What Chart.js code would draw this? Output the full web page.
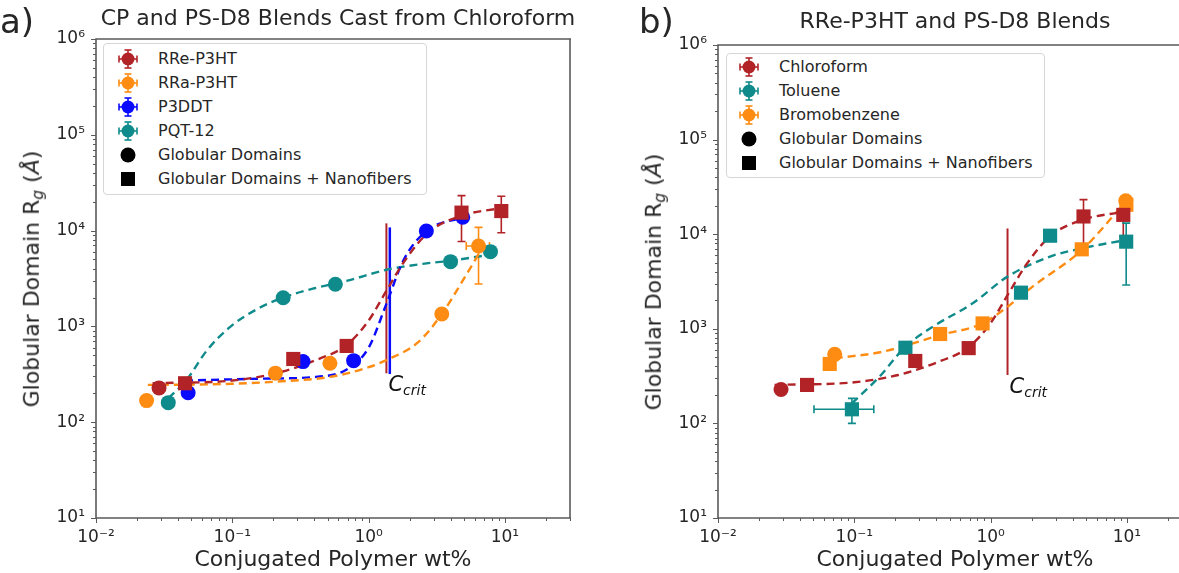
<!DOCTYPE html>
<html>
<head>
<meta charset="utf-8">
<script src="https://cdn.jsdelivr.net/npm/chart.js@4.4.0/dist/chart.umd.min.js"></script>
<style>
  html, body { margin: 0; padding: 0; background: #fff; overflow: hidden; }
  body { width: 1179px; height: 573px; position: relative; font-family: "DejaVu Sans", sans-serif; color: #262626; }
  .panel { position: absolute; top: 0; height: 573px; }
  #panelA { left: 0; width: 590px; }
  #panelB { left: 590px; width: 620px; }
  canvas { position: absolute; left: 0; top: 0; }
  .txt { position: absolute; white-space: nowrap; line-height: 1.2; }
  .tag { font-size: 34px; }
  .title { font-size: 22px; transform: translateX(-50%); }
  .xlab { font-size: 22px; transform: translateX(-50%); }
  .ylab { font-size: 22px; transform: translate(-50%, -50%) rotate(-90deg); }
  .ylab sub { font-size: 70%; font-style: italic; vertical-align: -0.25em; }
  .legend { position: absolute; background: #fff; border: 1px solid #d6d6d6; border-radius: 4px; }
  .legend .icon { position: absolute; }
  .legend .lab { position: absolute; font-size: 16px; line-height: 24px; white-space: nowrap; }
</style>
</head>
<body>
<div id="panelA" class="panel">
  <canvas id="chartA" width="590" height="573" style="width:590px;height:573px"></canvas>
  <div class="txt tag" style="left:0;top:1px">a)</div>
  <div class="txt title" style="left:338px;top:5px">CP and PS-D8 Blends Cast from Chloroform</div>
  <div class="txt ylab" style="left:33px;top:279px">Globular Domain R<sub>g</sub> (<i>Å</i>)</div>
  <div class="txt xlab" style="left:333px;top:546px">Conjugated Polymer wt%</div>
  <div class="legend" id="legendA" style="left:103px;top:43px;width:322px;height:150px"></div>
</div>
<div id="panelB" class="panel">
  <canvas id="chartB" width="620" height="573" style="width:620px;height:573px"></canvas>
  <div class="txt tag" style="left:49px;top:1px">b)</div>
  <div class="txt title" style="left:365px;top:8px">RRe-P3HT and PS-D8 Blends</div>
  <div class="txt ylab" style="left:65px;top:282px">Globular Domain R<sub>g</sub> (<i>Å</i>)</div>
  <div class="txt xlab" style="left:365px;top:546px">Conjugated Polymer wt%</div>
  <div class="legend" id="legendB" style="left:136px;top:53px;width:317px;height:123px"></div>
</div>
<script>
const RED = "#b22327";
const ORANGE = "#ff8c12";
const BLUE = "#0a0aff";
const TEAL = "#108b8b";

// axes
const xTickVals = [0.01, 0.1, 1, 10];
const xTickLabels = ["10\u207B\u00B2", "10\u207B\u00B9", "10\u2070", "10\u00B9"];
const yTickVals = [10, 100, 1000, 10000, 100000, 1000000];
const yTickLabels = ["10\u00B9", "10\u00B2", "10\u00B3", "10\u2074", "10\u2075", "10\u2076"];

// RRe-P3HT from chloroform (same series in both panels)
const rreX = [0.029, 0.045, 0.28, 0.69, 4.8, 9.4];
const rreY = [228, 255, 457, 625, 15400, 16000];
const rreShape = ["circle", "rect", "rect", "rect", "rect", "rect"];
const rreXLo = [null, null, 0.255, 0.64, null, null];
const rreXHi = [null, null, 0.305, 0.74, null, null];
const rreYLo = [null, null, null, null, 7700, 9500];
const rreYHi = [null, null, null, null, 23200, 22800];
const rreFitX = [0.026, 0.1, 0.21, 0.41, 0.69, 1.0, 1.35, 1.85, 2.75, 4.8, 9.4];
const rreFitY = [255, 272, 325, 445, 640, 1150, 2350, 4900, 9600, 14300, 17200];

// RRa-P3HT
const rraX = [0.0235, 0.207, 0.52, 3.44, 6.4];
const rraY = [168, 325, 412, 1345, 6900];
const rraShape = ["circle", "circle", "circle", "circle", "circle"];
const rraXLo = [null, null, null, null, 5.2];
const rraXHi = [null, null, null, null, 7.7];
const rraYLo = [null, null, null, null, 2770];
const rraYHi = [null, null, null, null, 10800];
const rraFitX = [0.024, 0.05, 0.1, 0.21, 0.52, 1.0, 1.35, 2.3, 3.44, 4.9, 6.6];
const rraFitY = [245, 247, 252, 265, 297, 375, 445, 680, 1345, 3000, 6100];

// P3DDT
const p3ddtX = [0.0474, 0.33, 0.776, 2.65, 4.9];
const p3ddtY = [203, 429, 439, 9900, 13800];
const p3ddtShape = ["circle", "circle", "circle", "circle", "circle"];
const p3ddtFitX = [0.045, 0.17, 0.41, 0.69, 1.0, 1.35, 1.8, 2.65, 4.9];
const p3ddtFitY = [272, 285, 297, 355, 600, 1720, 4900, 9900, 13800];

// PQT-12
const pqtX = [0.0339, 0.236, 0.57, 3.99, 7.83];
const pqtY = [160, 1990, 2750, 4740, 6030];
const pqtShape = ["circle", "circle", "circle", "circle", "circle"];
const pqtFitX = [0.034, 0.046, 0.065, 0.096, 0.15, 0.236, 0.4, 0.7, 1.35, 2.5, 3.99, 7.83];
const pqtFitY = [178, 274, 560, 984, 1500, 2000, 2500, 3000, 3900, 4500, 4850, 5600];

// C_crit markers, panel a
const critAX = [1.35, 1.43];
const critALo = [324, 318];
const critAHi = [11900, 10800];

// Toluene
const tolX = [0.096, 0.237, 1.67, 2.73, 9.87];
const tolY = [141, 631, 2410, 9640, 8340];
const tolShape = ["rect", "rect", "rect", "rect", "rect"];
const tolXLo = [0.0506, null, null, null, null];
const tolXHi = [0.139, null, null, null, null];
const tolYLo = [100, null, null, null, 2900];
const tolYHi = [184, null, null, null, 13100];
const tolFitX = [0.096, 0.153, 0.237, 0.376, 0.738, 1.33, 2.73, 4.7, 9.87];
const tolFitY = [163, 312, 647, 1050, 1860, 3560, 5800, 7100, 8700];

// Bromobenzene
const bromX = [0.0718, 0.066, 0.426, 0.873, 4.66, 9.9, 9.8];
const bromY = [537, 425, 881, 1140, 6920, 20500, 22600];
const bromShape = ["circle", "rect", "rect", "rect", "rect", "rect", "circle"];
const bromFitX = [0.0718, 0.162, 0.426, 0.873, 1.33, 2.03, 4.66, 9.77];
const bromFitY = [488, 573, 859, 1140, 1710, 2790, 6800, 22000];

// C_crit marker, panel b
const critBX = [1.33];
const critBLo = [325];
const critBHi = [11500];

// legends
const legendALabels = ["RRe-P3HT", "RRa-P3HT", "P3DDT", "PQT-12", "Globular Domains", "Globular Domains + Nanofibers"];
const legendAColors = [RED, ORANGE, BLUE, TEAL, "#000", "#000"];
const legendAKinds = ["err", "err", "err", "err", "circle", "square"];
const legendBLabels = ["Chloroform", "Toluene", "Bromobenzene", "Globular Domains", "Globular Domains + Nanofibers"];
const legendBColors = [RED, TEAL, ORANGE, "#000", "#000"];
const legendBKinds = ["err", "err", "err", "circle", "square"];

Chart.defaults.font.family = "DejaVu Sans";
Chart.defaults.color = "#262626";

function pts(xs, ys) {
  return xs.map((x, i) => ({ x: x, y: ys[i] }));
}

function scatterSet(color, xs, ys, shapes) {
  return {
    type: "scatter",
    data: pts(xs, ys),
    pointStyle: shapes,
    pointRadius: shapes.map((s) => (s === "rect" ? 10 : 7.5)),
    pointBackgroundColor: color,
    pointBorderColor: color,
    pointBorderWidth: 0,
    showLine: false,
    order: 0,
  };
}

function fitSet(color, xs, ys) {
  return {
    type: "line",
    data: pts(xs, ys),
    borderColor: color,
    borderWidth: 2.4,
    borderDash: [8, 5],
    pointRadius: 0,
    fill: false,
    cubicInterpolationMode: "monotone",
    order: 1,
  };
}

function critSet(color, x, lo, hi, w) {
  return {
    type: "line",
    data: [{ x: x, y: lo }, { x: x, y: hi }],
    borderColor: color,
    borderWidth: w,
    pointRadius: 0,
    fill: false,
    order: 1,
  };
}

function errorBars(list) {
  return {
    id: "errorBars",
    beforeDatasetsDraw(chart) {
      const { ctx, scales } = chart;
      ctx.save();
      ctx.lineWidth = 1.6;
      list.forEach((s) => {
        ctx.strokeStyle = s.color;
        s.xs.forEach((xv, i) => {
          const px = scales.x.getPixelForValue(xv);
          const py = scales.y.getPixelForValue(s.ys[i]);
          if (s.yLo && s.yLo[i] != null) {
            const a = scales.y.getPixelForValue(s.yLo[i]);
            const b = scales.y.getPixelForValue(s.yHi[i]);
            ctx.beginPath();
            ctx.moveTo(px, a); ctx.lineTo(px, b);
            ctx.moveTo(px - 4, a); ctx.lineTo(px + 4, a);
            ctx.moveTo(px - 4, b); ctx.lineTo(px + 4, b);
            ctx.stroke();
          }
          if (s.xLo && s.xLo[i] != null) {
            const a = scales.x.getPixelForValue(s.xLo[i]);
            const b = scales.x.getPixelForValue(s.xHi[i]);
            ctx.beginPath();
            ctx.moveTo(a, py); ctx.lineTo(b, py);
            ctx.moveTo(a, py - 4); ctx.lineTo(a, py + 4);
            ctx.moveTo(b, py - 4); ctx.lineTo(b, py + 4);
            ctx.stroke();
          }
        });
      });
      ctx.restore();
    },
  };
}

// box + outward log ticks (matplotlib look); the b) panel is cut off on the right
function frame(rightEdge) {
  return {
    id: "frame",
    afterDraw(chart) {
      const { ctx, chartArea: a, scales } = chart;
      ctx.save();
      ctx.strokeStyle = "#5a5a5a";
      ctx.lineWidth = 1.6;
      ctx.beginPath();
      ctx.moveTo(a.right + 1, a.top);
      ctx.lineTo(a.left, a.top);
      ctx.lineTo(a.left, a.bottom);
      ctx.lineTo(a.right + 1, a.bottom);
      if (rightEdge) {
        ctx.moveTo(a.right, a.top);
        ctx.lineTo(a.right, a.bottom);
      }
      ctx.stroke();
      ctx.lineWidth = 1;
      ctx.beginPath();
      for (let d = -2; d <= 1; d++) {
        for (let k = 1; k <= 9; k++) {
          const v = k * Math.pow(10, d);
          if (v > scales.x.max) continue;
          const px = Math.round(scales.x.getPixelForValue(v)) + 0.5;
          ctx.moveTo(px, a.bottom);
          ctx.lineTo(px, a.bottom + (k === 1 ? 5 : 3));
        }
      }
      for (let d = 1; d <= 6; d++) {
        for (let k = 1; k <= 9; k++) {
          const v = k * Math.pow(10, d);
          if (v > scales.y.max) continue;
          const py = Math.round(scales.y.getPixelForValue(v)) + 0.5;
          ctx.moveTo(a.left, py);
          ctx.lineTo(a.left - (k === 1 ? 5 : 3), py);
        }
      }
      ctx.stroke();
      ctx.restore();
    },
  };
}

function critLabel(x, lo) {
  return {
    id: "critLabel",
    afterDraw(chart) {
      const { ctx, scales } = chart;
      const px = scales.x.getPixelForValue(x) + 2;
      const py = scales.y.getPixelForValue(lo) + 2;
      ctx.save();
      ctx.fillStyle = "#111";
      ctx.textBaseline = "top";
      ctx.font = "italic 21px DejaVu Sans";
      ctx.fillText("C", px, py);
      const w = ctx.measureText("C").width;
      ctx.font = "italic 14px DejaVu Sans";
      ctx.fillText("crit", px + w, py + 9);
      ctx.restore();
    },
  };
}

function makeChart(id, padTop, padRight, yWidth, datasets, plugins) {
  return new Chart(document.getElementById(id), {
    type: "scatter",
    data: { datasets: datasets },
    options: {
      responsive: false,
      animation: false,
      events: [],
      layout: { padding: { top: padTop, right: padRight, left: 0, bottom: 0 } },
      plugins: { legend: { display: false }, tooltip: { enabled: false } },
      scales: {
        x: {
          type: "logarithmic",
          min: 0.01,
          max: 30,
          bounds: "data",
          afterFit: (s) => { s.height = 55; },
          afterBuildTicks: (s) => { s.ticks = xTickVals.map((v) => ({ value: v })); },
          grid: { display: false, drawTicks: false },
          border: { display: false },
          ticks: {
            padding: 9,
            maxRotation: 0,
            autoSkip: false,
            font: { size: 17 },
            callback: (v) => xTickLabels[xTickVals.indexOf(v)] || "",
          },
        },
        y: {
          type: "logarithmic",
          min: 10,
          max: 1000000,
          bounds: "data",
          afterFit: (s) => { s.width = yWidth; },
          afterBuildTicks: (s) => { s.ticks = yTickVals.map((v) => ({ value: v })); },
          grid: { display: false, drawTicks: false },
          border: { display: false },
          ticks: {
            padding: 11,
            autoSkip: false,
            font: { size: 17 },
            callback: (v) => yTickLabels[yTickVals.indexOf(v)] || "",
          },
        },
      },
    },
    plugins: plugins,
  });
}

function legendIcon(kind, color) {
  if (kind === "circle") {
    return `<svg width="26" height="24"><circle cx="13" cy="12" r="7.5" fill="${color}"/></svg>`;
  }
  if (kind === "square") {
    return `<svg width="26" height="24"><rect x="6" y="5" width="14" height="14" fill="${color}"/></svg>`;
  }
  return `<svg width="26" height="24"><g stroke="${color}" stroke-width="1.6">
    <line x1="13" y1="3" x2="13" y2="21"/><line x1="9.5" y1="3" x2="16.5" y2="3"/><line x1="9.5" y1="21" x2="16.5" y2="21"/>
    <line x1="4" y1="12" x2="22" y2="12"/><line x1="4" y1="8.5" x2="4" y2="15.5"/><line x1="22" y1="8.5" x2="22" y2="15.5"/></g>
    <circle cx="13" cy="12" r="6.5" fill="${color}"/></svg>`;
}

function buildLegend(id, labels, colors, kinds, firstY, step, iconX, textX) {
  const host = document.getElementById(id);
  labels.forEach((label, i) => {
    const cy = firstY + step * i;
    const icon = document.createElement("div");
    icon.className = "icon";
    icon.style.left = iconX - 13 + "px";
    icon.style.top = cy - 12 + "px";
    icon.innerHTML = legendIcon(kinds[i], colors[i]);
    host.appendChild(icon);
    const lab = document.createElement("div");
    lab.className = "lab";
    lab.style.left = textX + "px";
    lab.style.top = cy - 12 + "px";
    lab.textContent = label;
    host.appendChild(lab);
  });
}

makeChart("chartA", 39, 20, 96, [
  scatterSet(RED, rreX, rreY, rreShape),
  scatterSet(ORANGE, rraX, rraY, rraShape),
  scatterSet(BLUE, p3ddtX, p3ddtY, p3ddtShape),
  scatterSet(TEAL, pqtX, pqtY, pqtShape),
  fitSet(RED, rreFitX, rreFitY),
  fitSet(ORANGE, rraFitX, rraFitY),
  fitSet(BLUE, p3ddtFitX, p3ddtFitY),
  fitSet(TEAL, pqtFitX, pqtFitY),
  critSet(RED, critAX[0], critALo[0], critAHi[0], 2),
  critSet(BLUE, critAX[1], critALo[1], critAHi[1], 2.5),
], [
  errorBars([
    { color: RED, xs: rreX, ys: rreY, xLo: rreXLo, xHi: rreXHi, yLo: rreYLo, yHi: rreYHi },
    { color: ORANGE, xs: rraX, ys: rraY, xLo: rraXLo, xHi: rraXHi, yLo: rraYLo, yHi: rraYHi },
  ]),
  frame(true),
  critLabel(critAX[0], critALo[0]),
]);

makeChart("chartB", 45, 18, 128, [
  scatterSet(RED, rreX, rreY, rreShape),
  scatterSet(TEAL, tolX, tolY, tolShape),
  scatterSet(ORANGE, bromX, bromY, bromShape),
  fitSet(RED, rreFitX, rreFitY),
  fitSet(TEAL, tolFitX, tolFitY),
  fitSet(ORANGE, bromFitX, bromFitY),
  critSet(RED, critBX[0], critBLo[0], critBHi[0], 2),
], [
  errorBars([
    { color: RED, xs: rreX, ys: rreY, xLo: rreXLo, xHi: rreXHi, yLo: rreYLo, yHi: rreYHi },
    { color: TEAL, xs: tolX, ys: tolY, xLo: tolXLo, xHi: tolXHi, yLo: tolYLo, yHi: tolYHi },
  ]),
  frame(false),
  critLabel(critBX[0], critBLo[0]),
]);

buildLegend("legendA", legendALabels, legendAColors, legendAKinds, 15, 24, 24, 54);
buildLegend("legendB", legendBLabels, legendBColors, legendBKinds, 13, 24, 22, 52);
</script>
</body>
</html>
